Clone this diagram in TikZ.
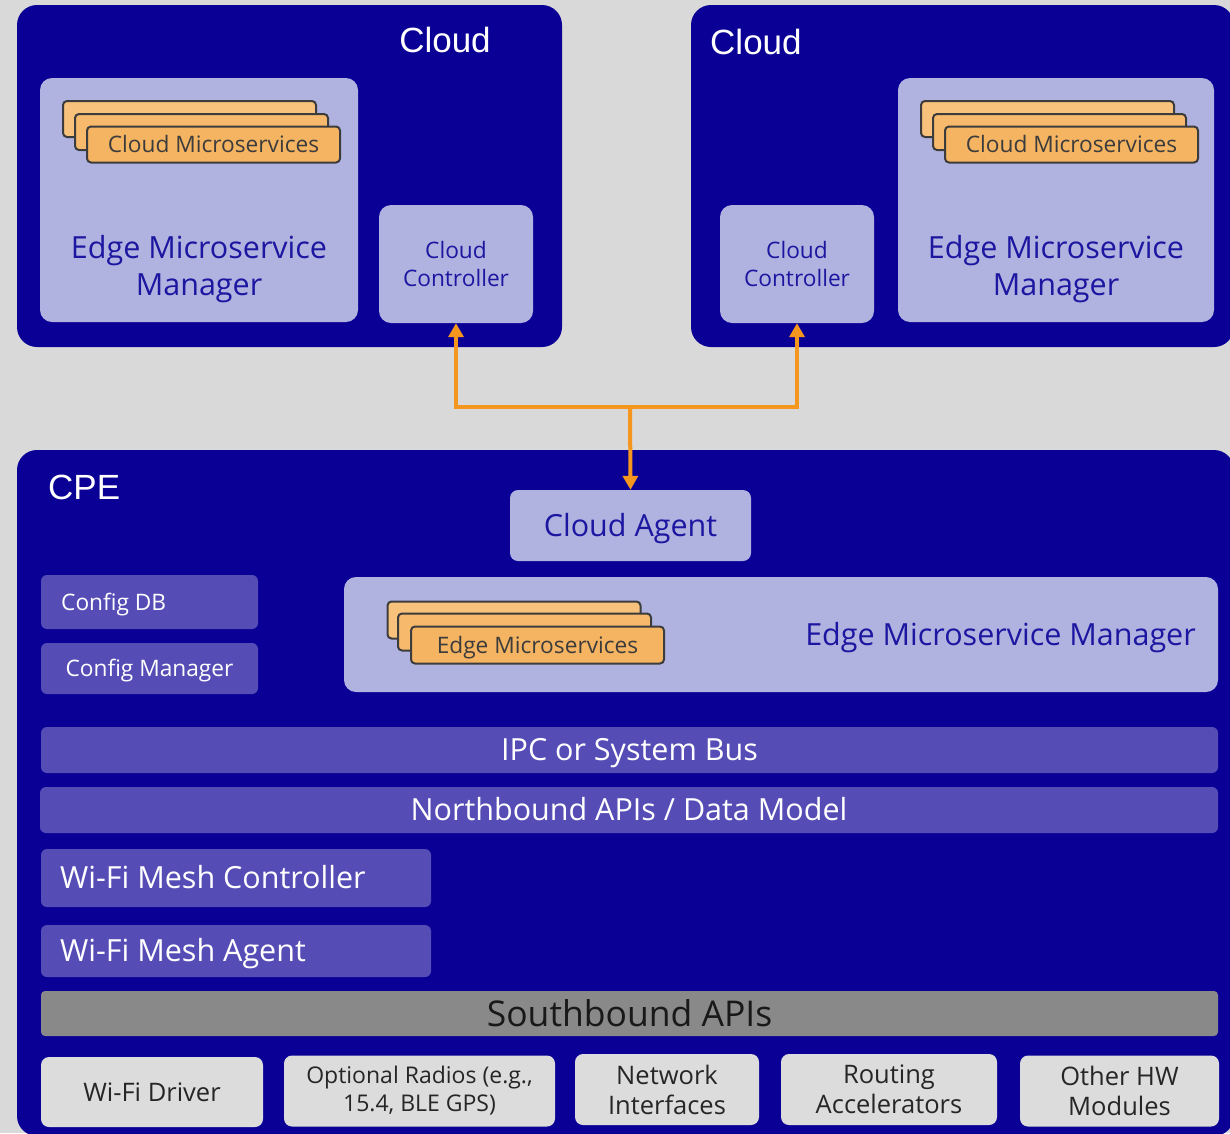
\documentclass[tikz,border=0pt]{standalone}
\usepackage{fontspec}
\setmainfont{Open Sans}
\newfontfamily\arialfont{Liberation Sans}
\usetikzlibrary{arrows.meta}

\definecolor{bgc}{RGB}{217,217,217}
\definecolor{navyc}{RGB}{10,0,150}
\definecolor{lavc}{RGB}{176,179,224}
\definecolor{purc}{RGB}{85,77,181}
\definecolor{txtblue}{RGB}{28,22,160}
\definecolor{cardA}{RGB}{248,194,124}
\definecolor{cardB}{RGB}{247,186,108}
\definecolor{cardC}{RGB}{245,180,98}
\definecolor{cardline}{RGB}{60,60,60}
\definecolor{sbc}{RGB}{137,137,137}
\definecolor{hwc}{RGB}{220,220,220}
\definecolor{flowc}{RGB}{245,150,30}

\newcommand\setfs[2]{\fontsize{#1}{#2}\selectfont}

\tikzset{
  % fixed text boxes so single-line labels centre on their capitals
  bigtxt/.style={font=\setfs{30.5}{37}},
  smalltxt/.style={font=\setfs{22.7}{28}},
  bigone/.style={bigtxt, text height=27.45pt, text depth=5.8pt},
  smallone/.style={smalltxt, text height=20.43pt, text depth=4.31pt},
  outerbox/.style={fill=navyc, draw=none, rounded corners=20pt, inner sep=0pt},
  lavbox/.style={fill=lavc, draw=none, rounded corners=12pt, inner sep=0pt,
                 text=txtblue, align=center},
  barbox/.style={fill=purc, draw=none, rounded corners=6pt, inner sep=0pt,
                 text=white, align=center},
  cardbox/.style={draw=cardline, line width=2pt, rounded corners=4pt,
                  minimum width=253pt, minimum height=36pt, inner sep=0pt,
                  text=cardline, smallone},
  hwbox/.style={fill=hwc, draw=none, rounded corners=8pt, inner sep=0pt,
                text=black!85, align=center, font=\setfs{25.5}{30}},
  titletxt/.style={text=white, inner sep=0pt, font=\arialfont\setfs{35}{40}},
  flow/.style={draw=flowc, line width=4pt,
               -{Triangle[width=15pt,length=14pt]}},
}

\begin{document}
\begin{tikzpicture}[x=1pt,y=-1pt]
\clip (0,0) rectangle (1230,1133);
\fill[bgc] (0,0) rectangle (1230,1133);

% ---------- left cloud ----------
\node[outerbox, minimum width=545, minimum height=342] (cloudL) at (289.5,176) {};
\node[titletxt] (cloudLt) at (445,40) {Cloud};
\node[lavbox, minimum width=318, minimum height=244] (emmL) at (199,200) {};
\node[text=txtblue, align=center, inner sep=0pt, bigtxt]
  (emmLt) at (199,269) {Edge Microservice\\Manager};
\node[cardbox, fill=cardA] (csL1) at (189.5,119) {};
\node[cardbox, fill=cardB] (csL2) at (201.5,132) {};
\node[cardbox, fill=cardC] (csL3) at (213.5,144.5) {Cloud Microservices};
\node[lavbox, minimum width=154, minimum height=118, smalltxt]
  (ccL) at (456,264) {Cloud\\Controller};

% ---------- right cloud ----------
\node[outerbox, minimum width=543, minimum height=342] (cloudR) at (962.5,176) {};
\node[titletxt, anchor=west] (cloudRt) at (710,42) {Cloud};
\node[lavbox, minimum width=316, minimum height=244] (emmR) at (1056,200) {};
\node[text=txtblue, align=center, inner sep=0pt, bigtxt]
  (emmRt) at (1056,269) {Edge Microservice\\Manager};
\node[cardbox, fill=cardA] (csR1) at (1047.5,119) {};
\node[cardbox, fill=cardB] (csR2) at (1059.5,132) {};
\node[cardbox, fill=cardC] (csR3) at (1071.5,144.5) {Cloud Microservices};
\node[lavbox, minimum width=154, minimum height=118, smalltxt]
  (ccR) at (797,264) {Cloud\\Controller};

% ---------- CPE ----------
\node[outerbox, minimum width=1217, minimum height=686] (cpe) at (625.5,793) {};
\node[titletxt, anchor=west] (cpet) at (48,487) {CPE};

\node[lavbox, minimum width=241, minimum height=71, rounded corners=8pt,
      bigone] (agent) at (630.5,525.5) {Cloud Agent};

\node[barbox, minimum width=217, minimum height=54] (cfgdb) at (149.5,602) {};
\node[text=white, inner sep=0pt, anchor=west, smallone]
  (cfgdbt) at (61,602) {Config DB};
\node[barbox, minimum width=217, minimum height=51, smallone]
  (cfgmgr) at (149.5,668.5) {Config Manager};

\node[lavbox, minimum width=874, minimum height=115] (emmC) at (781,634.5) {};
\node[text=txtblue, inner sep=0pt, anchor=east, bigone]
  (emmCt) at (1196,635) {Edge Microservice Manager};
\node[cardbox, fill=cardA, minimum height=37] (esC1) at (514,620) {};
\node[cardbox, fill=cardB, minimum height=37] (esC2) at (524.5,632) {};
\node[cardbox, fill=cardC, minimum height=37] (esC3) at (537.5,645) {Edge Microservices};

\node[barbox, minimum width=1177, minimum height=46, bigone]
  (ipc) at (629.5,750) {IPC or System Bus};
\node[barbox, minimum width=1178, minimum height=46, bigone]
  (nb) at (629,810) {Northbound APIs / Data Model};

\node[barbox, minimum width=390, minimum height=58] (wmc) at (236,878) {};
\node[text=white, inner sep=0pt, anchor=west, bigone]
  (wmct) at (60,878) {Wi-Fi Mesh Controller};
\node[barbox, minimum width=390, minimum height=52] (wma) at (236,951) {};
\node[text=white, inner sep=0pt, anchor=west, bigone]
  (wmat) at (60,951) {Wi-Fi Mesh Agent};

\node[fill=sbc, rounded corners=4pt, inner sep=0pt, minimum width=1177,
      minimum height=45, text=black!90, font=\setfs{35.5}{40},
      text height=31.95pt, text depth=6.75pt]
  (sb) at (629.5,1013.5) {Southbound APIs};

\node[hwbox, minimum width=222, minimum height=70,
      text height=22.95pt, text depth=4.85pt] (hw1) at (152,1092) {Wi-Fi Driver};
\node[hwbox, minimum width=271, minimum height=71, font=\setfs{23}{28}]
  (hw2) at (419.5,1091) {Optional Radios (e.g.,\\15.4, BLE GPS)};
\node[hwbox, minimum width=184, minimum height=71] (hw3) at (667,1089.5)
  {Network\\Interfaces};
\node[hwbox, minimum width=216, minimum height=71] (hw4) at (889,1089.5)
  {Routing\\Accelerators};
\node[hwbox, minimum width=199, minimum height=71] (hw5) at (1119.5,1091)
  {Other HW\\Modules};

% ---------- control links ----------
\coordinate (hub) at (630,407);
\draw[flow] (hub) -| (ccL.south);
\draw[flow] (hub) -| (ccR.south);
\draw[flow] (hub) -- (agent.north);
\end{tikzpicture}
\end{document}
